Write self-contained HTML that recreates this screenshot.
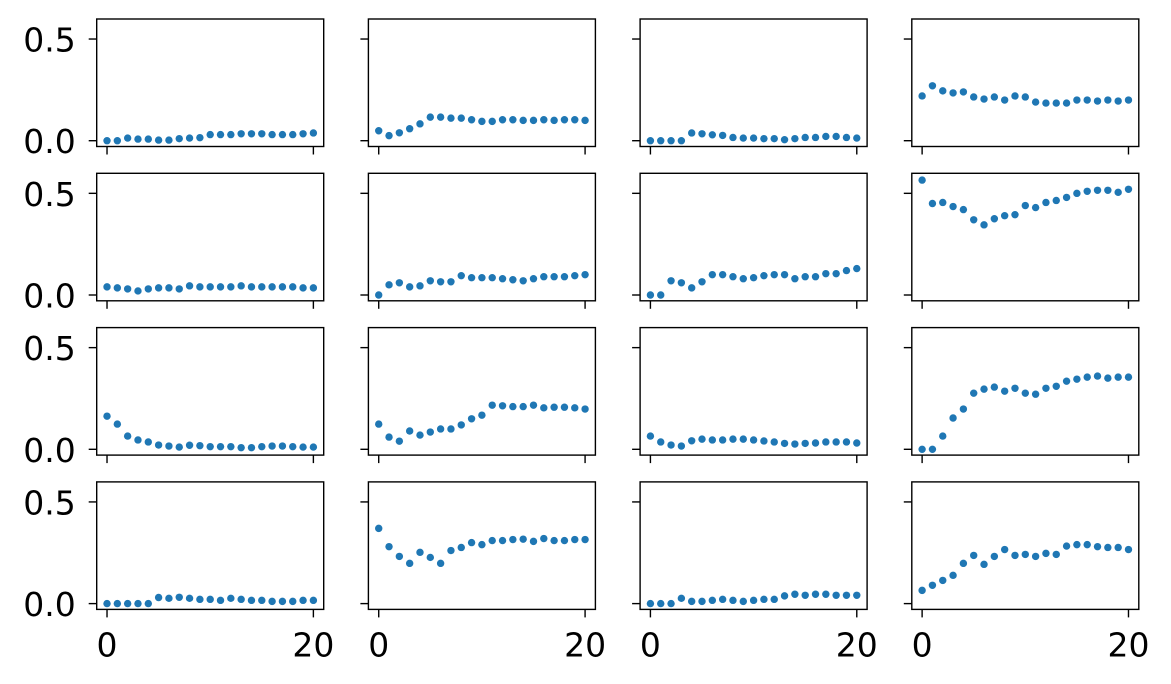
<!DOCTYPE html>
<html><head><meta charset="utf-8"><style>
html,body{margin:0;padding:0;background:#fff;}
svg{display:block;}
text{font-family:"DejaVu Sans","Liberation Sans",sans-serif;font-size:33px;fill:#000;}
</style></head><body>
<svg id="fig" width="1171" height="684" viewBox="0 0 1171 684" xmlns="http://www.w3.org/2000/svg"></svg>
<script>
const xTicks = [0, 20];
const yTicks = [0.0, 0.5];
const yTickLabels = ["0.0", "0.5"];
const xTickLabels = ["0", "20"];
const s00 = [0,0,.013,.008,.008,.003,.003,.01,.013,.015,.03,.03,.03,.034,.034,.034,.03,.03,.03,.034,.038];
const s01 = [.049,.025,.039,.059,.083,.116,.116,.111,.111,.103,.095,.095,.103,.103,.1,.1,.103,.1,.103,.103,.1];
const s02 = [0,0,0,0,.038,.034,.029,.026,.016,.013,.013,.01,.01,.005,.01,.016,.016,.021,.021,.016,.013];
const s03 = [.22,.27,.245,.235,.24,.215,.205,.215,.2,.22,.215,.19,.185,.185,.185,.2,.2,.195,.2,.195,.2];
const s10 = [.04,.035,.03,.02,.03,.035,.035,.03,.045,.04,.04,.04,.04,.045,.04,.04,.04,.04,.04,.035,.035];
const s11 = [0,.05,.06,.04,.045,.07,.065,.065,.095,.085,.085,.085,.08,.075,.07,.08,.09,.09,.09,.095,.1];
const s12 = [0,0,.07,.06,.035,.065,.1,.1,.09,.08,.085,.095,.1,.1,.08,.09,.09,.105,.105,.12,.13];
const s13 = [.565,.45,.455,.435,.42,.37,.345,.375,.39,.395,.44,.43,.455,.465,.48,.5,.51,.515,.515,.505,.52];
const s20 = [.163,.124,.065,.046,.036,.021,.016,.011,.02,.018,.013,.013,.013,.008,.008,.013,.016,.016,.013,.011,.011];
const s21 = [.124,.06,.04,.09,.07,.085,.1,.1,.12,.15,.168,.217,.214,.21,.21,.217,.204,.207,.207,.204,.198];
const s22 = [.065,.036,.021,.016,.042,.05,.046,.046,.05,.05,.046,.041,.036,.029,.026,.029,.031,.036,.036,.036,.031];
const s23 = [0,0,.065,.154,.198,.276,.296,.306,.286,.3,.276,.271,.3,.31,.335,.345,.355,.36,.35,.355,.355];
const s30 = [0,0,0,0,0,.03,.026,.031,.026,.021,.021,.016,.026,.021,.016,.016,.011,.011,.011,.016,.016];
const s31 = [.37,.28,.232,.198,.252,.227,.198,.261,.276,.3,.29,.31,.31,.315,.317,.306,.32,.31,.31,.315,.315];
const s32 = [0,0,0,.026,.011,.011,.016,.021,.016,.011,.016,.021,.021,.038,.046,.041,.046,.046,.041,.041,.041];
const s33 = [.065,.09,.114,.139,.198,.237,.193,.232,.266,.237,.242,.232,.247,.242,.283,.29,.29,.28,.276,.276,.266];
const panels = [[s00,s01,s02,s03],[s10,s11,s12,s13],[s20,s21,s22,s23],[s30,s31,s32,s33]];

const NS = "http://www.w3.org/2000/svg";
const svg = document.getElementById("fig");
const X0 = 96.7, DX = 271.7, Y0 = 19, DY = 154.3, W = 227, H = 127.5;
const xmin = -1, xmax = 21, ymin = -0.0285, ymax = 0.5985;
function mk(tag, attrs){ const e = document.createElementNS(NS, tag); for (const k in attrs) e.setAttribute(k, attrs[k]); return e; }

for (let r = 0; r < 4; r++) {
  for (let c = 0; c < 4; c++) {
    const left = X0 + c*DX, top = Y0 + r*DY;
    const xs = v => left + (v - xmin) / (xmax - xmin) * W;
    const ys = v => top + (ymax - v) / (ymax - ymin) * H;
    const g = mk("g", {});
    
    
    svg.appendChild(g);
    const data = panels[r][c];
    data.forEach((v, i) => {
      const p = mk("circle", {cx: xs(i), cy: ys(v), r: 3.7, fill: "#1f77b4"});
      
      
      g.appendChild(p);
    });
    const frame = mk("rect", {x: left, y: top, width: W, height: H, fill: "none", stroke: "#000", "stroke-width": 1.4});
    
    
    g.appendChild(frame);
    yTicks.forEach((t, i) => {
      const ty = ys(t);
      const tk = mk("line", {x1: left - 8, x2: left, y1: ty, y2: ty, stroke: "#000", "stroke-width": 1.4});
      
      
      g.appendChild(tk);
      if (c === 0) {
        const tl = mk("text", {x: left - 21, y: ty + 12.5, "text-anchor": "end"});
        tl.textContent = yTickLabels[i];
        
        
        g.appendChild(tl);
      }
    });
    xTicks.forEach((t, i) => {
      const tx = xs(t);
      const tk = mk("line", {x1: tx, x2: tx, y1: top + H, y2: top + H + 8, stroke: "#000", "stroke-width": 1.4});
      
      
      g.appendChild(tk);
      if (r === 3) {
        const tl = mk("text", {x: tx, y: top + H + 47, "text-anchor": "middle"});
        tl.textContent = xTickLabels[i];
        
        
        g.appendChild(tl);
      }
    });
  }
}
</script>
</body></html>
